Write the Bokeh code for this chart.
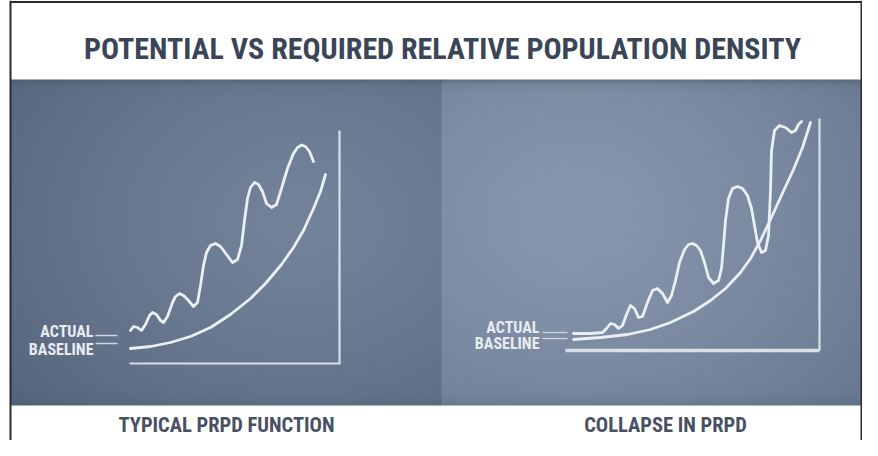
import numpy as np
from bokeh.plotting import figure
from bokeh.models import Range1d, Label
from bokeh.embed import file_html
from bokeh.resources import INLINE

# ---------------- data (chart units: pixels from each chart's origin) ----------------
title_text = "POTENTIAL VS REQUIRED RELATIVE POPULATION DENSITY"
panel_titles = ["TYPICAL PRPD FUNCTION", "COLLAPSE IN PRPD"]
series_labels = ["ACTUAL", "BASELINE"]

left_actual_x = [1, 4, 8, 12, 16, 20, 23, 27, 31, 34, 38, 43, 46, 50, 54, 59, 64, 68, 71, 74, 77, 81, 86,
                 91, 97, 103, 108, 112, 115, 118, 121, 125, 129, 133, 137, 142, 147, 152, 158, 164, 168,
                 172, 176, 180, 184]
left_actual_y = [33, 37, 36, 33, 39, 48, 51, 49, 43, 41, 47, 61, 67, 70, 68, 63, 57, 61, 78, 98, 111, 118, 120,
                 117, 109, 101, 104, 118, 143, 165, 176, 181, 179, 172, 160, 156, 159, 175, 195, 210, 216,
                 218.5, 217, 212, 202]
left_base_x = [1, 21, 41, 61, 81, 101, 121, 136, 152, 164, 174, 184, 191, 196]
left_base_y = [15, 17, 21, 27, 36, 49, 65, 80, 99, 116, 133, 155, 172, 189]
left_axis_x = [0, 210, 210]
left_axis_y = [0, 0, 233]

right_actual_x = [8, 25, 37, 41, 45, 49, 53, 57, 61, 65, 69, 73, 77, 82, 87, 92, 97, 102, 106, 110, 114,
                  119, 123, 127, 131, 135, 139, 143, 148, 153, 156, 158, 160, 163, 167, 172, 177, 182, 186,
                  189, 192, 196, 200, 203, 205, 206, 209, 214, 220, 226, 230, 233, 236]
right_actual_y = [17, 17, 18, 22, 27, 26, 22, 25, 36, 45, 42, 33, 34, 48, 60, 62, 57, 48, 55, 70, 88,
                  101, 106, 107, 105, 100, 88, 73, 67, 70, 82, 105, 130, 152, 162, 164, 162, 155, 142,
                  125, 108, 98, 100, 115, 160, 200, 220, 225, 223, 218, 220, 226, 229]
right_base_x = [8, 35, 62, 85, 105, 128, 145, 160, 175, 185, 195, 205, 215, 228, 237, 245]
right_base_y = [11, 13, 16, 21, 28, 39, 50, 62, 78, 92, 110, 131, 153, 181, 203, 228]
right_xaxis_x = [0, 254]
right_xaxis_y = [0, 0]
right_yaxis_x = [254, 254]
right_yaxis_y = [0, 232]

left_lead_x = [-34, -12]
left_lead_y = [28, 20]
right_lead_x = [-23, 2]
right_lead_y = [18, 12]

# ---------------- figure (1 unit = 1 px; main y = 456 - picture row) ----------------
p = figure(width=862, height=440, x_range=Range1d(0, 862), y_range=Range1d(16, 456),
           output_backend="svg", toolbar_location=None, min_border=0,
           x_axis_location=None, y_axis_location=None)
p.grid.visible = False
p.outline_line_color = None
p.background_fill_color = "white"
p.border_fill_color = "white"

p.extra_x_ranges = {"L": Range1d(-129, 733), "R": Range1d(-565, 297)}
p.extra_y_ranges = {"L": Range1d(-77, 363), "R": Range1d(-90, 350)}

# background gradient for the two panels
W, H = 426, 163
PX0, PY0, PW, PH = 10, 79, 851, 326
gx = PX0 + (np.arange(W) + 0.5) * PW / W
gy = PY0 + (np.arange(H) + 0.5) * PH / H
X, Y = np.meshgrid(gx, gy)


def radial(cx, cy, c0, c1, rx, ry):
    d = np.sqrt(((X - cx) / rx) ** 2 + ((Y - cy) / ry) ** 2)
    t = np.clip(d, 0, 1) ** 1.3
    c0 = np.array(c0, float)
    c1 = np.array(c1, float)
    return c0 + (c1 - c0) * t[..., None]


colL = radial(300, 220, (115, 131, 153), (84, 100, 122), 380, 300)
colR = radial(575, 215, (136, 151, 173), (100, 116, 138), 400, 330)
col = np.where((X < 441)[..., None], colL, colR)
dark = np.array([68, 82, 102], float)
f = (np.exp(-(Y - PY0) / 4.0) * 0.55)[..., None]
col = col * (1 - f) + dark * f
fb = (np.exp(-(PY0 + PH - Y) / 6.0) * 0.25)[..., None]
col = col * (1 - fb) + dark * fb

img = np.empty((H, W), dtype=np.uint32)
view = img.view(dtype=np.uint8).reshape((H, W, 4))
view[..., 0] = np.clip(col[..., 0], 0, 255).astype(np.uint8)
view[..., 1] = np.clip(col[..., 1], 0, 255).astype(np.uint8)
view[..., 2] = np.clip(col[..., 2], 0, 255).astype(np.uint8)
view[..., 3] = 255
p.image_rgba(image=[img[::-1]], x=PX0, y=456 - (PY0 + PH), dw=PW, dh=PH)

# outer frame
p.line([10, 10], [16, 456], line_color="#2b2b2b", line_width=2)
p.line([10, 861], [454.5, 454.5], line_color="#2b2b2b", line_width=2)
p.line([861, 861], [16, 456], line_color="#2b2b2b", line_width=2)

CURVE = "#eaeff4"
AXIS = "#d9dfe7"

# left chart
p.line(left_axis_x, left_axis_y, x_range_name="L", y_range_name="L",
       line_color=AXIS, line_width=2.2, line_join="miter")
p.line(left_base_x, left_base_y, x_range_name="L", y_range_name="L",
       line_color=CURVE, line_width=2.8, line_cap="round", line_join="round")
p.line(left_actual_x, left_actual_y, x_range_name="L", y_range_name="L",
       line_color=CURVE, line_width=2.8, line_cap="round", line_join="round")
for ly in left_lead_y:
    p.line(left_lead_x, [ly, ly], x_range_name="L", y_range_name="L",
           line_color="#cfd6df", line_width=1.3)

# right chart
p.line(right_xaxis_x, right_xaxis_y, x_range_name="R", y_range_name="R",
       line_color=AXIS, line_width=3.6)
p.line(right_yaxis_x, right_yaxis_y, x_range_name="R", y_range_name="R",
       line_color=AXIS, line_width=2.2)
p.line(right_base_x, right_base_y, x_range_name="R", y_range_name="R",
       line_color=CURVE, line_width=2.8, line_cap="round", line_join="round")
p.line(right_actual_x, right_actual_y, x_range_name="R", y_range_name="R",
       line_color=CURVE, line_width=2.8, line_cap="round", line_join="round")
for ly in right_lead_y:
    p.line(right_lead_x, [ly, ly], x_range_name="R", y_range_name="R",
           line_color="#cfd6df", line_width=1.3)

FONT = "'Roboto Condensed', 'Noto Sans Condensed', 'Noto Sans ExtraCondensed', Roboto, sans-serif"

# series labels
lab_pos = {"L": ((-36, 32), (-36, 14)), "R": ((-26, 23), (-26, 7))}
for rn, pos in lab_pos.items():
    for txt, (lx, ly) in zip(series_labels, pos):
        p.add_layout(Label(x=lx, y=ly, x_range_name=rn, y_range_name=rn, text=txt,
                           text_font=FONT, text_font_style="bold", text_font_size="16px",
                           text_color="#e8ecf1", text_align="right", text_baseline="middle"))

# title
p.add_layout(Label(x=442, y=456 - 48, text=title_text, text_font=FONT,
                   text_font_style="bold", text_font_size="30px", text_color="#3a4657",
                   text_align="center", text_baseline="middle"))

# panel captions
for txt, cx in zip(panel_titles, [226, 665]):
    p.add_layout(Label(x=cx, y=456 - 424, text=txt, text_font=FONT,
                       text_font_style="bold", text_font_size="20.5px", text_color="#485163",
                       text_align="center", text_baseline="middle"))

open("out.html", "w").write(file_html(p, INLINE))
